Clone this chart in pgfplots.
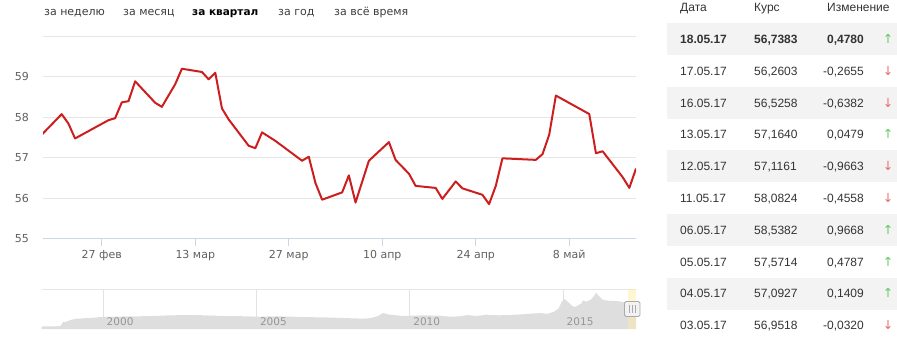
\documentclass[border=0pt]{standalone}
\usepackage{fontspec}
\usepackage{pgfplots}
\pgfplotsset{compat=1.18}
\setmainfont{DejaVu Sans}
\newfontfamily\tablefont{Liberation Sans}
\definecolor{gridc}{RGB}{230,230,230}
\definecolor{axisc}{RGB}{204,214,235}
\definecolor{labelc}{RGB}{96,96,96}
\definecolor{redline}{RGB}{204,30,30}
\definecolor{navfill}{RGB}{222,222,222}
\definecolor{navgrid}{RGB}{226,226,226}
\definecolor{navlabel}{RGB}{150,150,150}
\definecolor{rowgray}{RGB}{243,243,243}
\definecolor{textc}{RGB}{51,51,51}
\definecolor{tabc}{RGB}{60,60,60}
\definecolor{upc}{RGB}{100,200,100}
\definecolor{downc}{RGB}{230,110,110}
\definecolor{selc}{RGB}{255,236,160}
\definecolor{handlec}{RGB}{242,242,242}
\definecolor{handleb}{RGB}{170,170,170}
\newcommand\trow[6]{%
  \node[anchor=base west,inner sep=0pt] at (680bp,#1bp) {#2};
  \node[anchor=base west,inner sep=0pt] at (754bp,#1bp) {#3};
  \node[anchor=base east,inner sep=0pt] at (864bp,#1bp) {#4};
  \node[anchor=base,inner sep=0pt,text=#5,font=\fontsize{12.5bp}{14bp}\selectfont] at (888bp,#1bp) {#6};}
\begin{document}
\begin{tikzpicture}
\path[use as bounding box] (0,0) rectangle (897bp,353bp);
% period tabs
\begin{scope}[every node/.style={anchor=base west,inner sep=0pt,text=tabc,font=\fontsize{11bp}{13bp}\selectfont}]
\node at (44bp,337bp) {за неделю};
\node at (123bp,337bp) {за месяц};
\node[text=black,font=\fontsize{10.5bp}{13bp}\selectfont\bfseries] at (192bp,337bp) {за квартал};
\node at (278bp,337bp) {за год};
\node at (334bp,337bp) {за всё время};
\end{scope}
% main chart
\begin{axis}[
  at={(43bp,114bp)}, anchor=south west, scale only axis,
  width=593bp, height=202.7bp,
  xmin=-8.8, xmax=80, ymin=55, ymax=60,
  axis line style={draw=none},
  ytick={55,56,57,58,59,60}, yticklabels={55,56,57,58,59,{}},
  ymajorgrids, grid style={gridc, line width=1bp},
  ytick style={draw=none},
  xtick={0,14,28,42,56,70},
  xticklabels={27 фев,13 мар,27 мар,10 апр,24 апр,8 май},
  xtick align=outside, tick pos=left,
  xtick style={axisc, line width=1bp},
  major tick length=7bp,
  /pgf/number format/assume math mode=true,
  xticklabel style={anchor=base, inner sep=0pt, yshift=-12.3bp, text=labelc, font=\fontsize{11bp}{13bp}\selectfont},
  yticklabel style={anchor=east, inner sep=0pt, xshift=-14bp, text=labelc, font=\fontsize{11bp}{13bp}\selectfont},
  clip=true,
]
\addplot[redline, line width=2bp, line join=round, mark=none] coordinates {
(-9,57.57) (-6,58.08) (-5,57.85) (-4,57.48) (1,57.93) (2,57.98) (3,58.37) (4,58.40)
(5,58.89) (8,58.36) (9,58.26) (11,58.82) (12,59.20) (15,59.12) (16,58.94) (17,59.10)
(18,58.22) (19,57.95) (22,57.30) (23,57.24) (24,57.63) (26,57.42) (30,56.93) (31,57.03)
(32,56.38) (33,55.97) (36,56.15) (37,56.57) (38,55.90) (40,56.93) (43,57.39) (44,56.95)
(46,56.61) (47,56.31) (50,56.26) (51,55.99) (53,56.42) (54,56.25) (57,56.09) (58,55.86)
(59,56.31) (60,56.99) (65,56.9518) (66,57.0927) (67,57.5714) (68,58.5382) (73,58.0824)
(74,57.1161) (75,57.1640) (78,56.5258) (79,56.2603) (80,56.7383)
};
\draw[axisc, line width=1bp] (rel axis cs:0,0) -- (rel axis cs:1,0);
\end{axis}
% navigator
\begin{axis}[
  at={(41.7bp,24bp)}, anchor=south west, scale only axis,
  width=594.3bp, height=39.7bp,
  xmin=1998, xmax=2017.38, ymin=0, ymax=90,
  axis line style={draw=none},
  ytick=\empty,
  xtick={2000,2005,2010,2015}, xticklabels={},
  xmajorgrids, grid style={navgrid, line width=1bp},
  xtick style={draw=none},
  clip=false,
]
\addplot[fill=navfill, draw=none] coordinates {
(1998.0,5.96) (1998.5,6.2) (1998.62,7) (1998.7,16) (1998.8,16.5) (1998.95,20.7)
(1999.1,23) (1999.4,24.5) (1999.6,25) (1999.9,27) (2000.5,28.2) (2001.0,28.6)
(2001.5,29.2) (2002.0,30.5) (2002.5,31.4) (2003.0,31.8) (2003.5,30.5) (2004.0,29.3)
(2004.5,29.0) (2005.0,27.9) (2005.5,28.6) (2006.0,28.2) (2006.5,27.0) (2007.0,26.5)
(2007.5,25.8) (2008.0,24.5) (2008.5,23.4) (2008.75,25) (2008.95,29) (2009.1,35)
(2009.15,36) (2009.3,33) (2009.5,31.5) (2009.8,29.5) (2010.0,30) (2010.5,31)
(2011.0,30) (2011.3,28) (2011.6,28.5) (2011.9,31.5) (2012.2,29.5) (2012.5,32.5)
(2012.9,31) (2013.5,32.5) (2014.0,35) (2014.25,36) (2014.5,34.5) (2014.7,39)
(2014.85,46) (2014.96,62) (2015.05,68) (2015.12,64) (2015.3,52) (2015.4,50)
(2015.6,58) (2015.65,65) (2015.75,62) (2015.9,66) (2016.05,78) (2016.07,83)
(2016.15,76) (2016.3,66) (2016.5,64) (2016.7,63.5) (2016.9,62) (2017.0,60)
(2017.2,57.5) (2017.38,56.7)
} \closedcycle;
\draw[gridc, line width=1bp] (rel axis cs:0,1) -- (rel axis cs:1,1);
\fill[selc, opacity=0.45] (axis cs:2017.13,0) rectangle (axis cs:2017.38,90);
\begin{scope}[every node/.style={anchor=base west, inner sep=0pt, xshift=3.5bp, yshift=4bp, text=navlabel, font=\fontsize{10.5bp}{12bp}\selectfont}]
\node at (axis cs:2000,0) {2000};
\node at (axis cs:2005,0) {2005};
\node at (axis cs:2010,0) {2010};
\node at (axis cs:2015,0) {2015};
\end{scope}
\end{axis}
% navigator handle
\draw[handleb, fill=handlec, line width=0.8bp, rounded corners=1.5bp] (624.5bp,36.5bp) rectangle (640bp,51.5bp);
\draw[handleb, line width=0.8bp] (629.5bp,40bp) -- (629.5bp,48bp) (632.25bp,40bp) -- (632.25bp,48bp) (635bp,40bp) -- (635bp,48bp);
% table
\fill[rowgray] (667bp,297.7bp) rectangle (897bp,329.7bp);
\fill[rowgray] (667bp,234.1bp) rectangle (897bp,266.1bp);
\fill[rowgray] (667bp,170.5bp) rectangle (897bp,202.5bp);
\fill[rowgray] (667bp,106.9bp) rectangle (897bp,138.9bp);
\fill[rowgray] (667bp,43.3bp) rectangle (897bp,75.3bp);
\begin{scope}[every node/.style={text=textc,font=\tablefont\fontsize{12bp}{14bp}\selectfont}]
\node[anchor=base west,inner sep=0pt] at (680bp,341.4bp) {Дата};
\node[anchor=base west,inner sep=0pt] at (754bp,341.4bp) {Курс};
\node[anchor=base west,inner sep=0pt] at (827bp,341.4bp) {Изменение};
\trow{309.4}{\textbf{18.05.17}}{\textbf{56,7383}}{\textbf{0,4780}}{upc}{↑}
\trow{277.6}{17.05.17}{56,2603}{-0,2655}{downc}{↓}
\trow{245.8}{16.05.17}{56,5258}{-0,6382}{downc}{↓}
\trow{214.0}{13.05.17}{57,1640}{0,0479}{upc}{↑}
\trow{182.2}{12.05.17}{57,1161}{-0,9663}{downc}{↓}
\trow{150.4}{11.05.17}{58,0824}{-0,4558}{downc}{↓}
\trow{118.6}{06.05.17}{58,5382}{0,9668}{upc}{↑}
\trow{86.8}{05.05.17}{57,5714}{0,4787}{upc}{↑}
\trow{55.0}{04.05.17}{57,0927}{0,1409}{upc}{↑}
\trow{23.2}{03.05.17}{56,9518}{-0,0320}{downc}{↓}
\end{scope}
\end{tikzpicture}
\end{document}
